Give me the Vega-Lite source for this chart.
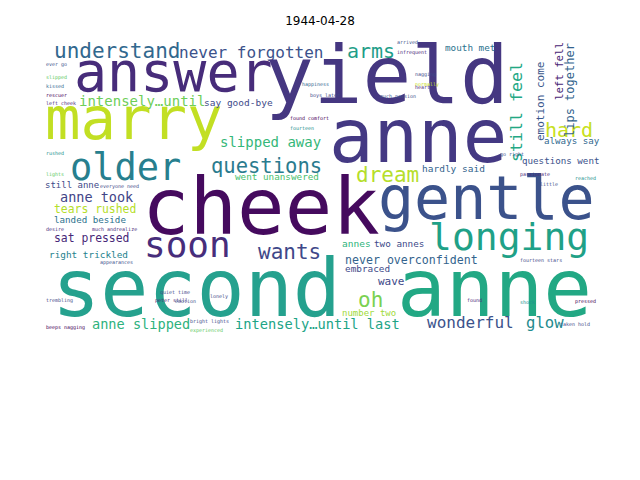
{
  "$schema": "https://vega.github.io/schema/vega-lite/v6.json",
  "width": 640,
  "height": 480,
  "autosize": "none",
  "padding": 0,
  "background": "white",
  "title": {"text": "1944-04-28", "offset": -28, "font": "DejaVu Sans", "fontSize": 12, "fontWeight": "normal", "color": "black"},
  "data": {
    "values": [
      {"word": "understand", "x": 54, "y": 58, "size": 21, "angle": 0, "color": "#31688e"},
      {"word": "never forgotten", "x": 179, "y": 58, "size": 16, "angle": 0, "color": "#3b528b"},
      {"word": "arms", "x": 347, "y": 58, "size": 20, "angle": 0, "color": "#1f9e89"},
      {"word": "answer", "x": 74, "y": 91, "size": 55, "angle": 0, "color": "#472c7a"},
      {"word": "yield", "x": 265, "y": 103, "size": 81, "angle": 0, "color": "#453781"},
      {"word": "anne", "x": 329, "y": 162, "size": 74, "angle": 0, "color": "#443983"},
      {"word": "marry", "x": 45, "y": 139, "size": 59, "angle": 0, "color": "#c2df23"},
      {"word": "older", "x": 70, "y": 180, "size": 37, "angle": 0, "color": "#277f8e"},
      {"word": "slipped away", "x": 220, "y": 147, "size": 14, "angle": 0, "color": "#35b779"},
      {"word": "questions", "x": 211, "y": 173, "size": 20.5, "angle": 0, "color": "#2a7b8e"},
      {"word": "intensely…until", "x": 79, "y": 106, "size": 14, "angle": 0, "color": "#6ece58"},
      {"word": "say good-bye", "x": 204, "y": 106, "size": 9.5, "angle": 0, "color": "#3e4a89"},
      {"word": "cheek", "x": 142, "y": 234, "size": 79, "angle": 0, "color": "#450a5e"},
      {"word": "gentle", "x": 378, "y": 219, "size": 60, "angle": 0, "color": "#3b528b"},
      {"word": "dream", "x": 356, "y": 182, "size": 21, "angle": 0, "color": "#b5de2b"},
      {"word": "hard", "x": 545, "y": 137, "size": 20, "angle": 0, "color": "#c8e020"},
      {"word": "longing", "x": 429, "y": 250, "size": 38, "angle": 0, "color": "#1fa187"},
      {"word": "soon", "x": 144, "y": 257, "size": 36, "angle": 0, "color": "#472d7b"},
      {"word": "wants", "x": 258, "y": 259, "size": 21, "angle": 0, "color": "#3f4889"},
      {"word": "second", "x": 52, "y": 316, "size": 80, "angle": 0, "color": "#25a18e"},
      {"word": "anne", "x": 397, "y": 316, "size": 81, "angle": 0, "color": "#22a884"},
      {"word": "oh", "x": 358, "y": 307, "size": 21, "angle": 0, "color": "#7ad151"},
      {"word": "anne took", "x": 60, "y": 202, "size": 13.5, "angle": 0, "color": "#414487"},
      {"word": "tears rushed", "x": 54, "y": 213, "size": 11.4, "angle": 0, "color": "#b5de2b"},
      {"word": "landed beside", "x": 54, "y": 223, "size": 9.2, "angle": 0, "color": "#2c728e"},
      {"word": "sat pressed", "x": 54, "y": 242, "size": 11.4, "angle": 0, "color": "#482878"},
      {"word": "right trickled", "x": 49, "y": 258, "size": 9.4, "angle": 0, "color": "#26828e"},
      {"word": "still anne", "x": 45, "y": 188, "size": 9, "angle": 0, "color": "#3e4a89"},
      {"word": "anne slipped", "x": 92, "y": 329, "size": 13.6, "angle": 0, "color": "#2db27d"},
      {"word": "intensely…until last", "x": 235, "y": 329, "size": 13.7, "angle": 0, "color": "#20a486"},
      {"word": "wonderful", "x": 427, "y": 328, "size": 16, "angle": 0, "color": "#3b528b"},
      {"word": "glow", "x": 526, "y": 328, "size": 15.6, "angle": 0, "color": "#238a8d"},
      {"word": "never overconfident", "x": 345, "y": 264, "size": 11.6, "angle": 0, "color": "#33638d"},
      {"word": "embraced", "x": 345, "y": 272, "size": 9.4, "angle": 0, "color": "#3e4a89"},
      {"word": "wave", "x": 378, "y": 285, "size": 11, "angle": 0, "color": "#3e4989"},
      {"word": "number two", "x": 342, "y": 316, "size": 9, "angle": 0, "color": "#a0da39"},
      {"word": "annes", "x": 342, "y": 247, "size": 9.5, "angle": 0, "color": "#2fb47c"},
      {"word": "two annes", "x": 374, "y": 247, "size": 9.3, "angle": 0, "color": "#3e4a89"},
      {"word": "went unanswered", "x": 235, "y": 180, "size": 9.3, "angle": 0, "color": "#4ac16d"},
      {"word": "hardly said", "x": 422, "y": 172, "size": 9.5, "angle": 0, "color": "#33638d"},
      {"word": "questions went", "x": 522, "y": 164, "size": 9.2, "angle": 0, "color": "#3b528b"},
      {"word": "always say", "x": 544, "y": 144, "size": 9.2, "angle": 0, "color": "#31688e"},
      {"word": "mouth met", "x": 445, "y": 51, "size": 9.3, "angle": 0, "color": "#2c728e"},
      {"word": "still feel", "x": 522, "y": 162, "size": 16.6, "angle": -90, "color": "#22a884"},
      {"word": "emotion come", "x": 544, "y": 141, "size": 11, "angle": -90, "color": "#39568c"},
      {"word": "left fell", "x": 563, "y": 100, "size": 10.7, "angle": -90, "color": "#482475"},
      {"word": "lips together", "x": 574, "y": 137, "size": 12, "angle": -90, "color": "#33638d"},
      {"word": "ever go", "x": 46, "y": 66, "size": 5, "angle": 0, "color": "#3b528b"},
      {"word": "slipped", "x": 46, "y": 79, "size": 5, "angle": 0, "color": "#5ec962"},
      {"word": "kissed", "x": 46, "y": 88, "size": 5, "angle": 0, "color": "#31688e"},
      {"word": "rescuer", "x": 46, "y": 97, "size": 5, "angle": 0, "color": "#440154"},
      {"word": "left cheek", "x": 46, "y": 105, "size": 5, "angle": 0, "color": "#482878"},
      {"word": "rushed", "x": 46, "y": 155, "size": 5, "angle": 0, "color": "#21918c"},
      {"word": "lights", "x": 46, "y": 176, "size": 5, "angle": 0, "color": "#5ec962"},
      {"word": "desire", "x": 46, "y": 231, "size": 5, "angle": 0, "color": "#482878"},
      {"word": "trembling", "x": 46, "y": 302, "size": 5, "angle": 0, "color": "#3e4a89"},
      {"word": "beeps nagging", "x": 46, "y": 329, "size": 5, "angle": 0, "color": "#440154"},
      {"word": "much andrealize", "x": 92, "y": 231, "size": 5, "angle": 0, "color": "#482878"},
      {"word": "everyone need", "x": 100, "y": 188, "size": 5, "angle": 0, "color": "#3e4a89"},
      {"word": "arrived", "x": 397, "y": 44, "size": 5, "angle": 0, "color": "#3b528b"},
      {"word": "infrequent", "x": 397, "y": 54, "size": 5, "angle": 0, "color": "#482878"},
      {"word": "nagging", "x": 415, "y": 76, "size": 5, "angle": 0, "color": "#3e4a89"},
      {"word": "normally", "x": 415, "y": 86, "size": 5, "angle": 0, "color": "#c8e020"},
      {"word": "heart", "x": 415, "y": 89, "size": 5, "angle": 0, "color": "#482878"},
      {"word": "much passion", "x": 380, "y": 98, "size": 5, "angle": 0, "color": "#3b528b"},
      {"word": "happiness", "x": 302, "y": 86, "size": 5, "angle": 0, "color": "#31688e"},
      {"word": "boys later", "x": 310, "y": 97, "size": 5, "angle": 0, "color": "#3e4a89"},
      {"word": "found comfort", "x": 290, "y": 120, "size": 5, "angle": 0, "color": "#440154"},
      {"word": "fourteen", "x": 290, "y": 130, "size": 5, "angle": 0, "color": "#21918c"},
      {"word": "go right", "x": 500, "y": 156, "size": 5, "angle": 0, "color": "#3b528b"},
      {"word": "passionate", "x": 520, "y": 176, "size": 5, "angle": 0, "color": "#482878"},
      {"word": "reached", "x": 575, "y": 180, "size": 5, "angle": 0, "color": "#21918c"},
      {"word": "little", "x": 540, "y": 186, "size": 5, "angle": 0, "color": "#3b528b"},
      {"word": "fourteen stars", "x": 520, "y": 262, "size": 5, "angle": 0, "color": "#3e4a89"},
      {"word": "pressed", "x": 575, "y": 303, "size": 5, "angle": 0, "color": "#440154"},
      {"word": "taken hold", "x": 560, "y": 326, "size": 5, "angle": 0, "color": "#3e4a89"},
      {"word": "found", "x": 467, "y": 302, "size": 5, "angle": 0, "color": "#482878"},
      {"word": "shock", "x": 520, "y": 304, "size": 5, "angle": 0, "color": "#21918c"},
      {"word": "bright lights", "x": 190, "y": 323, "size": 5, "angle": 0, "color": "#3e4a89"},
      {"word": "experienced", "x": 190, "y": 332, "size": 5, "angle": 0, "color": "#5ec962"},
      {"word": "appearances", "x": 100, "y": 264, "size": 5, "angle": 0, "color": "#3b528b"},
      {"word": "quiet time", "x": 160, "y": 294, "size": 5, "angle": 0, "color": "#3e4a89"},
      {"word": "peter still", "x": 155, "y": 302, "size": 5, "angle": 0, "color": "#482878"},
      {"word": "emotion", "x": 175, "y": 303, "size": 5, "angle": 0, "color": "#3b528b"},
      {"word": "lonely", "x": 210, "y": 298, "size": 5, "angle": 0, "color": "#3e4a89"}
    ]
  },
  "mark": {"type": "text", "align": "left", "baseline": "alphabetic", "font": "DejaVu Sans Mono", "clip": false},
  "encoding": {
    "x": {"field": "x", "type": "quantitative", "scale": {"domain": [0, 640]}, "axis": null},
    "y": {"field": "y", "type": "quantitative", "scale": {"domain": [480, 0]}, "axis": null},
    "text": {"field": "word"},
    "size": {"field": "size", "type": "quantitative", "scale": null, "legend": null},
    "angle": {"field": "angle", "type": "quantitative", "scale": null},
    "color": {"field": "color", "type": "nominal", "scale": null}
  },
  "config": {"view": {"stroke": null}}
}
